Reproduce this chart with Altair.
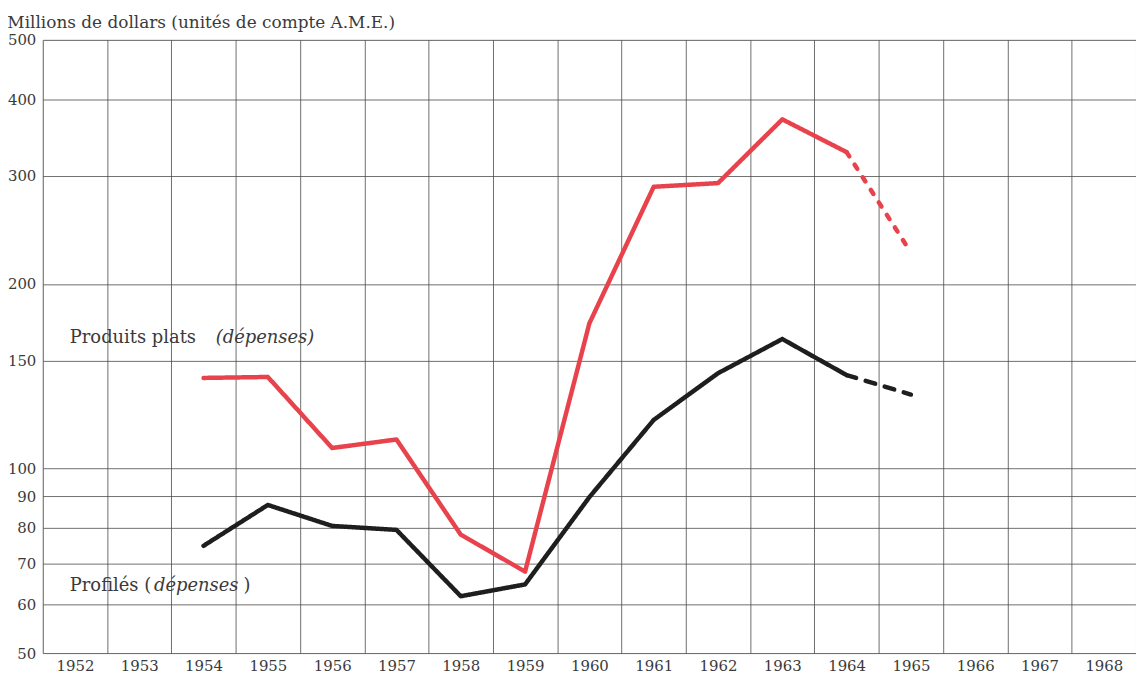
import altair as alt
import pandas as pd

# ---- data ----
years = [1954, 1955, 1956, 1957, 1958, 1959, 1960, 1961, 1962, 1963, 1964, 1965]
plats = [140.5, 141.0, 108.0, 111.5, 78.0, 67.9, 172.5, 288.0, 292.0, 371.0, 328.0, 225.0]
profiles = [74.8, 87.2, 80.6, 79.4, 61.9, 64.7, 89.8, 120.0, 143.0, 162.6, 142.0, 132.0]
last_actual = 1964  # 1965 drawn dashed (estimate)

y_ticks = [50, 60, 70, 80, 90, 100, 150, 200, 300, 400, 500]
x_grid = [1951.5 + i for i in range(18)]

title_text = "Millions de dollars (unités de compte A.M.E.)"

rows = []
for name, vals in [("plats", plats), ("profiles", profiles)]:
    for yr, v in zip(years, vals):
        if yr <= last_actual:
            rows.append({"series": name, "part": name + "-solid", "year": yr, "value": v})
        if yr >= last_actual:
            rows.append({"series": name, "part": name + "-dash", "year": yr, "value": v})
df = pd.DataFrame(rows)

# annotation labels (anchor in data coordinates)
ann = pd.DataFrame([
    {"year": 1951.92, "value": 163.0, "txt": "Produits plats", "style": "normal"},
    {"year": 1954.19, "value": 163.0, "txt": "(dépenses)", "style": "italic"},
    {"year": 1951.92, "value": 64.4, "txt": "Profilés (", "style": "normal"},
    {"year": 1953.23, "value": 64.4, "txt": "dépenses", "style": "italic"},
    {"year": 1954.62, "value": 64.4, "txt": ")", "style": "normal"},
])

W, H = 1100, 617
FONT = "DejaVu Serif"
TXT = "#3a3a3a"
GRID = "#4a4a4a"

x_scale = alt.Scale(domain=[1951.5, 1968.5], nice=False, zero=False)
y_scale = alt.Scale(type="log", domain=[50, 500], nice=False)

x_axis = alt.Axis(
    values=x_grid, grid=True, ticks=False, domain=False, title=None,
    labelExpr="datum.value < 1968 ? toString(datum.value + 0.5) : ''",
    labelOffset=W / 17 / 2, labelFlush=False, labelOverlap=False, labelBound=False,
    labelFont=FONT, labelFontSize=15, labelColor=TXT, labelPadding=6,
    gridColor=GRID, gridWidth=0.8,
)
y_axis = alt.Axis(
    values=y_ticks, grid=True, ticks=False, domain=False, title=None,
    labelExpr="toString(datum.value)", labelOverlap=False, labelFlush=False,
    labelFont=FONT, labelFontSize=15, labelColor=TXT, labelPadding=7,
    gridColor=GRID, gridWidth=0.8,
)

lines = alt.Chart(df).mark_line(strokeWidth=4.5, strokeCap="round", strokeJoin="round").encode(
    x=alt.X("year:Q", scale=x_scale, axis=x_axis),
    y=alt.Y("value:Q", scale=y_scale, axis=y_axis),
    color=alt.Color("series:N", scale=alt.Scale(domain=["plats", "profiles"],
                                               range=["#e8434c", "#1e1e1e"]), legend=None),
    strokeDash=alt.StrokeDash("part:N", scale=alt.Scale(
        domain=["plats-solid", "plats-dash", "profiles-solid", "profiles-dash"],
        range=[[1, 0], [5, 10], [1, 0], [10, 10]]), legend=None),
    order="year:Q",
)

def text_layer(style):
    return alt.Chart(ann[ann["style"] == style]).mark_text(
        align="left", baseline="middle", font=FONT, fontSize=18, color=TXT, fontStyle=style
    ).encode(
        x=alt.X("year:Q", scale=x_scale),
        y=alt.Y("value:Q", scale=y_scale),
        text="txt:N",
    )

chart = alt.layer(lines, text_layer("normal"), text_layer("italic")).properties(
    width=W, height=H,
    autosize=alt.AutoSizeParams(type="none"),
    padding={"left": 35, "top": 30, "right": 0, "bottom": 22},
    title=alt.TitleParams(title_text, anchor="start", font=FONT, fontSize=17,
                          fontWeight="normal", color=TXT, offset=1),
).configure_view(stroke="#2a2a2a", strokeWidth=1.6).configure(background="white")

chart.save("out.html", embed_options={"renderer": "svg", "actions": False})
